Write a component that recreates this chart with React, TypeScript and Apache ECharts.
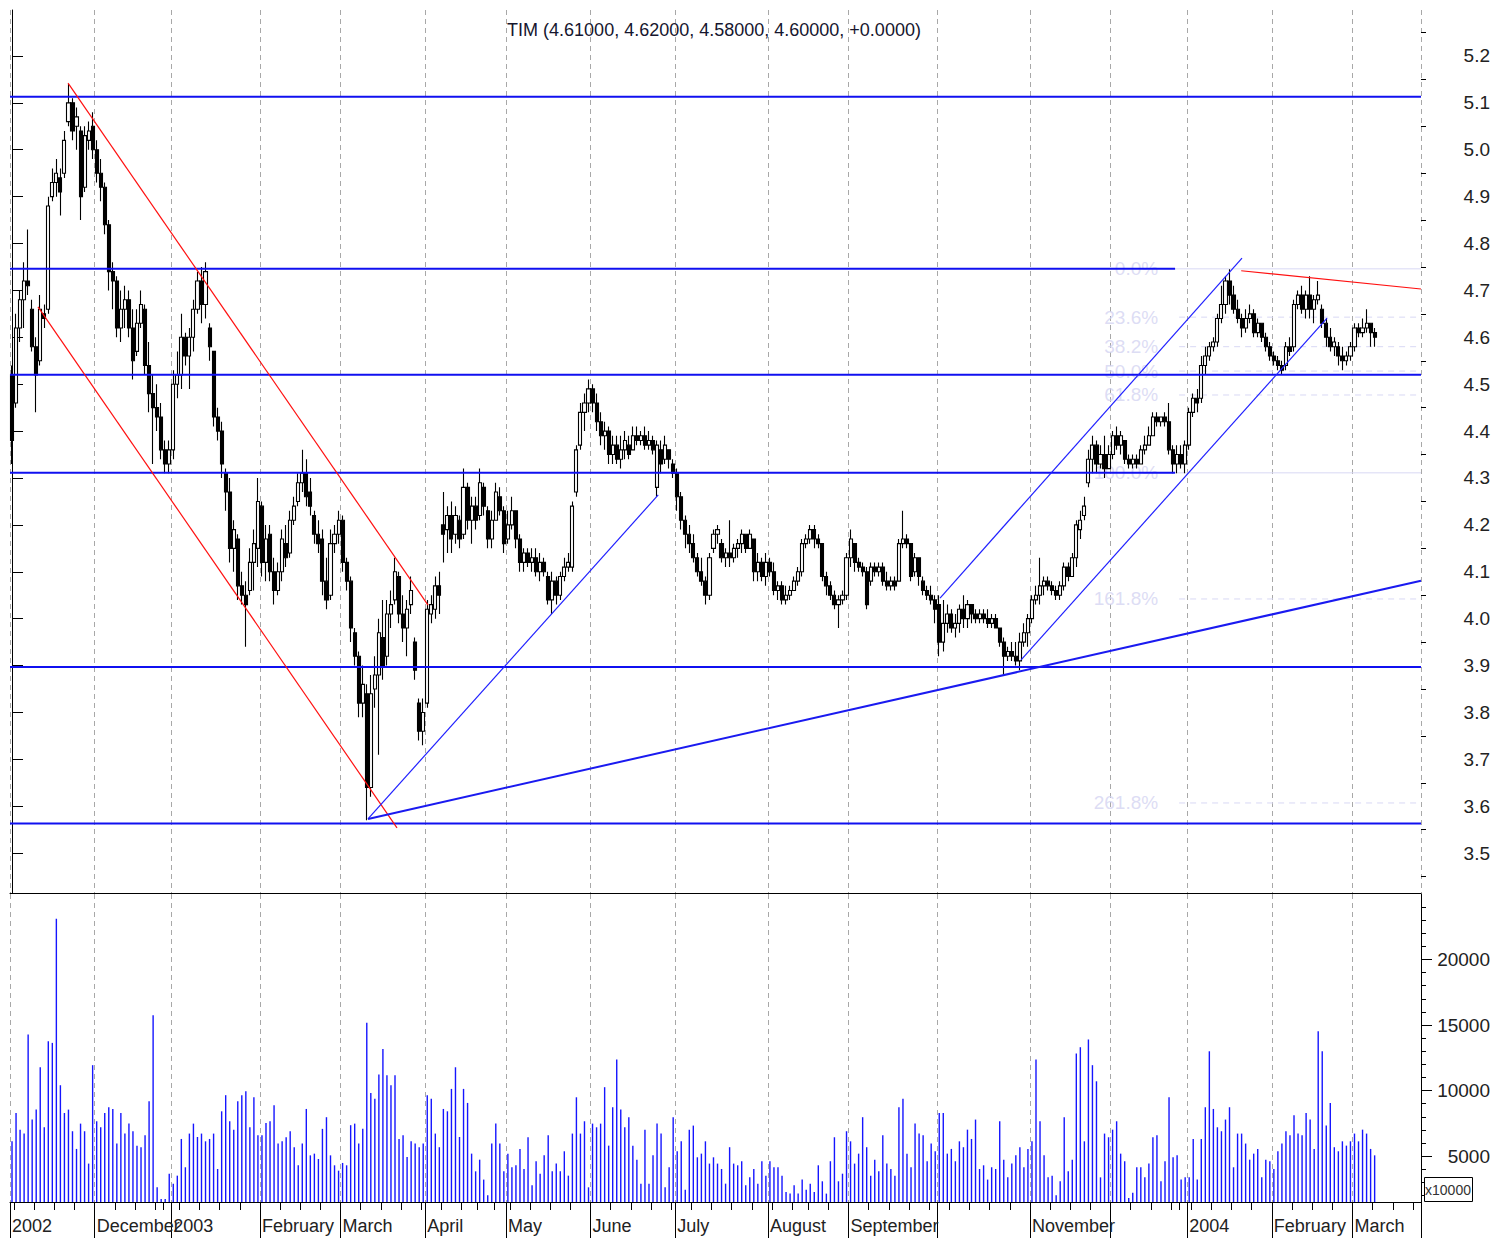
import React, { useEffect, useRef } from "react";
import * as echarts from "echarts";

// ---------------- data ----------------
const TITLE = "TIM (4.61000, 4.62000, 4.58000, 4.60000, +0.0000)";
const MONTH_NAMES = ["January", "February", "March", "April", "May", "June", "July", "August", "September", "October", "November", "December"];
const HOLIDAYS = ["2002-12-24", "2002-12-25", "2002-12-26", "2003-01-01", "2003-04-18", "2003-04-21", "2003-05-01", "2003-08-15", "2003-12-24", "2003-12-25", "2003-12-26", "2003-12-31", "2004-01-01"];
const HIDDEN_MONTH_LABELS = ["2003-10", "2003-12"];
const SLOT_COUNT = 350;

const opens = [
  4.52, 4.46, 4.62, 4.68, 4.72, 4.66, 4.58, 4.55, 4.65, 4.66, 4.90, 4.93, 4.94, 4.95, 5.06, 5.10, 5.05, 5.04, 4.92, 5.02, 5.05,
  5.00, 4.95, 4.92, 4.84, 4.74, 4.72, 4.62, 4.66, 4.68, 4.62, 4.57, 4.63, 4.66, 4.54, 4.48, 4.45, 4.43, 4.36, 4.33,
  4.36, 4.50, 4.52, 4.60, 4.56, 4.60, 4.66, 4.72, 4.67, 4.62, 4.57, 4.43, 4.40, 4.31, 4.27, 4.15, 4.17, 4.07, 4.05, 4.06, 4.12, 4.15,
  4.24, 4.12, 4.18, 4.10, 4.06, 4.10, 4.16, 4.14, 4.21, 4.25, 4.29, 4.31, 4.27, 4.22, 4.18, 4.17, 4.08, 4.05, 4.16, 4.18,
  4.21, 4.12, 4.08, 3.97, 3.92, 3.82, 3.84, 3.64, 3.85, 3.88, 3.96, 3.92, 4.01, 4.04, 4.09, 4.01, 3.98, 4.03, 3.95, 3.82, 3.76,
  3.82, 4.01, 4.02, 4.07, 4.20, 4.19, 4.22, 4.18, 4.21, 4.18, 4.28, 4.21, 4.24, 4.22, 4.28, 4.23, 4.17, 4.21, 4.26, 4.23,
  4.17, 4.20, 4.23, 4.17, 4.12, 4.14, 4.12, 4.13, 4.10, 4.12, 4.09, 4.04, 4.08, 4.05, 4.09, 4.11, 4.11, 4.27, 4.37, 4.44, 4.46,
  4.49, 4.46, 4.42, 4.39, 4.40, 4.35, 4.37, 4.34, 4.36, 4.37, 4.36, 4.39, 4.38, 4.39, 4.37, 4.38, 4.28, 4.36, 4.34, 4.36, 4.33,
  4.31, 4.26, 4.21, 4.18, 4.16, 4.13, 4.10, 4.08, 4.05, 4.15, 4.18, 4.16, 4.13, 4.14, 4.13, 4.15, 4.16, 4.18, 4.15, 4.17, 4.10, 4.12, 4.09,
  4.12, 4.10, 4.06, 4.07, 4.04, 4.05, 4.06, 4.08, 4.10, 4.16, 4.17, 4.19, 4.17, 4.16, 4.09, 4.07, 4.05, 4.03, 4.04, 4.05,
  4.13, 4.16, 4.12, 4.11, 4.10, 4.08, 4.11, 4.10, 4.11, 4.08, 4.07, 4.08, 4.08, 4.16, 4.17, 4.16, 4.10, 4.13, 4.08, 4.06, 4.05, 4.04,
  4.03, 3.95, 3.99, 4.01, 3.98, 3.99, 4.02, 4.00, 4.03, 4.01, 4.00, 4.01, 4.00, 3.99, 4.00, 3.98, 3.95, 3.92, 3.93, 3.92, 3.91, 3.95, 3.97,
  4.00, 4.04, 4.05, 4.07, 4.08, 4.07, 4.06, 4.05, 4.07, 4.11, 4.09, 4.13, 4.19, 4.22, 4.29, 4.34, 4.37, 4.33, 4.35, 4.32,
  4.35, 4.39, 4.37, 4.38, 4.34, 4.33, 4.34, 4.33, 4.36, 4.37, 4.39, 4.43, 4.42, 4.43, 4.42, 4.36, 4.33, 4.35, 4.33,
  4.37, 4.44, 4.47, 4.47, 4.54, 4.56, 4.58, 4.59, 4.64, 4.67, 4.72, 4.69, 4.66, 4.64, 4.62, 4.64, 4.65, 4.61, 4.63, 4.60, 4.58,
  4.56, 4.55, 4.54, 4.54, 4.58, 4.58, 4.67, 4.69, 4.66, 4.69, 4.66, 4.68, 4.66, 4.63, 4.60, 4.58, 4.58, 4.56, 4.55, 4.56,
  4.58, 4.62, 4.61, 4.62, 4.63, 4.61,
];
const highs = [
  4.54, 4.65, 4.70, 4.76, 4.83, 4.68, 4.60, 4.69, 4.67, 4.90, 4.96, 4.98, 4.96, 5.04, 5.14, 5.11, 5.09, 5.05, 5.05, 5.06, 5.08,
  5.02, 4.98, 4.93, 4.85, 4.76, 4.73, 4.70, 4.71, 4.70, 4.66, 4.66, 4.70, 4.67, 4.59, 4.52, 4.50, 4.46, 4.38, 4.38,
  4.53, 4.57, 4.65, 4.61, 4.62, 4.68, 4.74, 4.75, 4.76, 4.63, 4.57, 4.45, 4.42, 4.32, 4.30, 4.21, 4.18, 4.10, 4.08, 4.15, 4.19, 4.30,
  4.25, 4.20, 4.20, 4.13, 4.12, 4.19, 4.20, 4.23, 4.26, 4.31, 4.36, 4.34, 4.30, 4.23, 4.21, 4.19, 4.13, 4.19, 4.20, 4.23,
  4.22, 4.13, 4.09, 3.98, 3.93, 3.90, 3.86, 3.88, 3.92, 4.00, 4.04, 4.04, 4.06, 4.13, 4.10, 4.05, 4.04, 4.09, 3.96, 3.83, 3.83,
  4.04, 4.05, 4.09, 4.10, 4.27, 4.24, 4.25, 4.24, 4.22, 4.32, 4.29, 4.26, 4.26, 4.32, 4.29, 4.24, 4.23, 4.29, 4.28, 4.24,
  4.23, 4.26, 4.23, 4.18, 4.15, 4.15, 4.15, 4.15, 4.14, 4.13, 4.10, 4.10, 4.09, 4.10, 4.13, 4.14, 4.25, 4.37, 4.46, 4.48, 4.51,
  4.50, 4.48, 4.44, 4.42, 4.41, 4.39, 4.39, 4.39, 4.40, 4.39, 4.41, 4.41, 4.40, 4.41, 4.40, 4.39, 4.38, 4.38, 4.39, 4.36, 4.34,
  4.32, 4.27, 4.22, 4.20, 4.18, 4.14, 4.13, 4.09, 4.14, 4.19, 4.20, 4.17, 4.15, 4.21, 4.16, 4.17, 4.19, 4.18, 4.19, 4.17, 4.14, 4.13, 4.14,
  4.13, 4.12, 4.08, 4.08, 4.07, 4.07, 4.09, 4.11, 4.17, 4.18, 4.20, 4.20, 4.18, 4.16, 4.10, 4.08, 4.06, 4.05, 4.06, 4.14,
  4.19, 4.16, 4.13, 4.12, 4.11, 4.12, 4.12, 4.12, 4.12, 4.10, 4.09, 4.09, 4.17, 4.23, 4.18, 4.16, 4.14, 4.13, 4.09, 4.07, 4.07, 4.05,
  4.05, 4.04, 4.03, 4.02, 4.01, 4.03, 4.05, 4.04, 4.03, 4.02, 4.02, 4.02, 4.02, 4.01, 4.01, 3.98, 3.96, 3.94, 3.95, 3.95, 3.97, 3.99, 4.01,
  4.05, 4.07, 4.13, 4.09, 4.09, 4.08, 4.07, 4.08, 4.12, 4.12, 4.14, 4.21, 4.23, 4.26, 4.36, 4.39, 4.38, 4.37, 4.39, 4.37,
  4.40, 4.41, 4.40, 4.38, 4.35, 4.35, 4.35, 4.37, 4.39, 4.41, 4.44, 4.44, 4.43, 4.44, 4.46, 4.37, 4.37, 4.37, 4.38,
  4.45, 4.48, 4.49, 4.56, 4.58, 4.59, 4.60, 4.65, 4.71, 4.73, 4.745, 4.71, 4.68, 4.65, 4.66, 4.67, 4.66, 4.64, 4.63, 4.61, 4.59,
  4.57, 4.56, 4.55, 4.59, 4.60, 4.68, 4.70, 4.71, 4.70, 4.73, 4.69, 4.72, 4.67, 4.64, 4.62, 4.60, 4.59, 4.58, 4.57, 4.59,
  4.63, 4.63, 4.64, 4.66, 4.63, 4.62,
];
const lows = [
  4.33, 4.45, 4.59, 4.62, 4.69, 4.57, 4.44, 4.54, 4.62, 4.65, 4.89, 4.90, 4.86, 4.94, 5.05, 5.02, 5.00, 4.85, 4.91, 5.00, 4.98,
  4.93, 4.89, 4.82, 4.70, 4.66, 4.60, 4.59, 4.62, 4.60, 4.51, 4.56, 4.62, 4.52, 4.44, 4.33, 4.40, 4.34, 4.31, 4.31,
  4.34, 4.47, 4.49, 4.54, 4.49, 4.57, 4.65, 4.63, 4.64, 4.55, 4.41, 4.38, 4.30, 4.23, 4.12, 4.10, 4.04, 4.03, 3.94, 4.05, 4.06, 4.11,
  4.09, 4.08, 4.08, 4.03, 4.05, 4.08, 4.11, 4.13, 4.20, 4.24, 4.27, 4.24, 4.22, 4.16, 4.14, 4.05, 4.02, 4.04, 4.14, 4.16,
  4.10, 4.06, 3.95, 3.90, 3.79, 3.79, 3.57, 3.62, 3.81, 3.71, 3.87, 3.90, 3.98, 4.03, 3.99, 3.95, 3.92, 4.01, 3.87, 3.74, 3.73,
  3.81, 3.99, 4.00, 4.01, 4.12, 4.14, 4.14, 4.16, 4.15, 4.17, 4.19, 4.16, 4.19, 4.21, 4.22, 4.15, 4.15, 4.21, 4.22, 4.14,
  4.16, 4.19, 4.15, 4.10, 4.10, 4.11, 4.10, 4.09, 4.08, 4.09, 4.03, 4.01, 4.03, 4.04, 4.08, 4.10, 4.10, 4.26, 4.36, 4.40, 4.44,
  4.44, 4.40, 4.37, 4.36, 4.33, 4.33, 4.33, 4.32, 4.34, 4.34, 4.36, 4.37, 4.37, 4.36, 4.36, 4.35, 4.26, 4.31, 4.33, 4.32, 4.30,
  4.23, 4.19, 4.15, 4.14, 4.12, 4.09, 4.07, 4.03, 4.04, 4.14, 4.16, 4.12, 4.11, 4.11, 4.12, 4.13, 4.14, 4.14, 4.15, 4.08, 4.08, 4.08, 4.07,
  4.09, 4.05, 4.04, 4.03, 4.03, 4.04, 4.06, 4.07, 4.09, 4.15, 4.16, 4.15, 4.15, 4.08, 4.05, 4.04, 4.02, 3.98, 4.03, 4.04,
  4.11, 4.10, 4.10, 4.09, 4.02, 4.07, 4.09, 4.09, 4.07, 4.06, 4.06, 4.06, 4.08, 4.15, 4.15, 4.08, 4.09, 4.07, 4.05, 4.04, 4.03, 3.99,
  3.92, 3.93, 3.97, 3.97, 3.96, 3.97, 3.98, 3.98, 3.99, 3.99, 3.99, 3.99, 3.98, 3.98, 3.98, 3.94, 3.88, 3.91, 3.91, 3.90, 3.89, 3.94, 3.94,
  3.99, 4.03, 4.03, 4.05, 4.06, 4.05, 4.04, 4.04, 4.06, 4.08, 4.09, 4.11, 4.17, 4.21, 4.28, 4.31, 4.31, 4.32, 4.30, 4.32,
  4.34, 4.36, 4.35, 4.33, 4.32, 4.32, 4.32, 4.33, 4.35, 4.37, 4.39, 4.41, 4.41, 4.41, 4.35, 4.31, 4.31, 4.32, 4.31,
  4.36, 4.43, 4.44, 4.46, 4.52, 4.55, 4.57, 4.58, 4.63, 4.65, 4.67, 4.65, 4.63, 4.60, 4.61, 4.63, 4.60, 4.60, 4.59, 4.57, 4.55,
  4.54, 4.53, 4.52, 4.53, 4.56, 4.57, 4.66, 4.65, 4.64, 4.64, 4.63, 4.67, 4.62, 4.58, 4.57, 4.56, 4.54, 4.53, 4.54, 4.55,
  4.57, 4.60, 4.60, 4.61, 4.58, 4.58,
];
const closes = [
  4.38, 4.62, 4.68, 4.72, 4.71, 4.58, 4.52, 4.66, 4.64, 4.88, 4.93, 4.95, 4.91, 5.02, 5.10, 5.04, 5.07, 4.90, 5.03, 5.04, 5.00,
  4.95, 4.92, 4.84, 4.74, 4.72, 4.62, 4.66, 4.68, 4.62, 4.55, 4.63, 4.67, 4.54, 4.48, 4.45, 4.43, 4.36, 4.33, 4.36,
  4.50, 4.52, 4.60, 4.56, 4.60, 4.66, 4.72, 4.67, 4.74, 4.58, 4.43, 4.40, 4.33, 4.27, 4.15, 4.19, 4.07, 4.05, 4.03, 4.12, 4.16, 4.25,
  4.12, 4.17, 4.10, 4.06, 4.10, 4.17, 4.13, 4.21, 4.24, 4.29, 4.31, 4.26, 4.24, 4.18, 4.16, 4.08, 4.04, 4.16, 4.18, 4.21,
  4.12, 4.08, 3.98, 3.92, 3.82, 3.86, 3.64, 3.84, 3.88, 3.97, 3.90, 4.01, 4.03, 4.10, 4.01, 3.98, 4.02, 4.06, 3.89, 3.76, 3.80,
  4.02, 4.03, 4.07, 4.05, 4.18, 4.22, 4.17, 4.22, 4.17, 4.28, 4.21, 4.24, 4.21, 4.29, 4.24, 4.17, 4.21, 4.27, 4.23, 4.16,
  4.20, 4.23, 4.17, 4.12, 4.14, 4.12, 4.13, 4.10, 4.12, 4.10, 4.04, 4.08, 4.05, 4.09, 4.11, 4.12, 4.24, 4.36, 4.44, 4.46, 4.49,
  4.46, 4.42, 4.39, 4.40, 4.35, 4.37, 4.34, 4.36, 4.38, 4.35, 4.39, 4.38, 4.39, 4.37, 4.38, 4.36, 4.37, 4.33, 4.37, 4.34, 4.31,
  4.26, 4.21, 4.18, 4.16, 4.13, 4.10, 4.08, 4.05, 4.13, 4.18, 4.19, 4.13, 4.14, 4.13, 4.15, 4.16, 4.18, 4.15, 4.18, 4.10, 4.12, 4.09, 4.12,
  4.10, 4.06, 4.07, 4.04, 4.05, 4.06, 4.08, 4.10, 4.16, 4.17, 4.19, 4.17, 4.16, 4.09, 4.07, 4.05, 4.03, 4.04, 4.05, 4.13,
  4.17, 4.12, 4.11, 4.10, 4.03, 4.11, 4.10, 4.11, 4.08, 4.07, 4.08, 4.07, 4.16, 4.17, 4.16, 4.09, 4.13, 4.09, 4.06, 4.05, 4.04, 4.02,
  3.95, 3.99, 4.01, 3.98, 3.99, 4.02, 4.00, 4.03, 4.01, 4.00, 4.01, 4.00, 3.99, 4.00, 3.98, 3.95, 3.92, 3.93, 3.92, 3.91, 3.95, 3.97, 4.00,
  4.04, 4.05, 4.07, 4.08, 4.07, 4.06, 4.05, 4.07, 4.11, 4.09, 4.13, 4.20, 4.21, 4.24, 4.34, 4.37, 4.33, 4.35, 4.32, 4.35,
  4.39, 4.37, 4.39, 4.34, 4.33, 4.34, 4.33, 4.36, 4.37, 4.39, 4.43, 4.42, 4.43, 4.42, 4.36, 4.33, 4.35, 4.33, 4.37,
  4.44, 4.47, 4.46, 4.54, 4.56, 4.58, 4.59, 4.64, 4.67, 4.72, 4.69, 4.66, 4.64, 4.62, 4.64, 4.65, 4.61, 4.63, 4.60, 4.58, 4.56,
  4.55, 4.54, 4.53, 4.58, 4.57, 4.67, 4.69, 4.66, 4.69, 4.66, 4.68, 4.69, 4.63, 4.60, 4.58, 4.59, 4.56, 4.55, 4.56, 4.58,
  4.62, 4.61, 4.62, 4.63, 4.61, 4.60,
];
const volumes = [
  6130, 8300, 7020, 6720, 14280, 7790, 8550, 11780, 7200, 13770,
  13640, 23110, 10410, 8300, 8550, 6900, 5550, 7480, 6900, 4430,
  11940, 7660, 7200, 8300, 8730, 8600, 5960, 8300, 6720, 7480,
  6900, 5800, 5680, 6590, 9190, 15750, 2620, 1730, 1730, 3660,
  2900, 3510, 6310, 4150, 6720, 7480, 6460, 6720, 6130, 6310,
  6720, 4020, 8420, 9650, 7660, 7020, 9190, 9650, 9950, 7200,
  9490, 6590, 6590, 7530, 7660, 8880, 5960, 6130, 6440, 6900,
  5680, 4300, 5960, 8600, 5060, 5190, 4780, 7080, 7970, 5060,
  4300, 3890, 4480, 4300, 7360, 7480, 5960, 7080, 15170, 9820,
  9370, 11220, 13180, 11170, 10410, 11170, 6310, 6590, 4940, 6130,
  5960, 5680, 5960, 9650, 9370, 6720, 5680, 8600, 8420, 10130,
  11780, 6460, 10130, 9060, 5190, 3840, 4730, 3210, 2010, 5960,
  7480, 5960,
  3840, 5190, 4150, 4300, 5550, 4020, 6440, 2770, 4610, 3660,
  5060, 6590, 3840, 4430, 3840, 5370, 3510, 6720, 9490, 6720,
  7660, 2620, 7480, 7200, 7480, 10260, 5800, 8730, 12370, 8550,
  7200, 7970, 5800, 4730, 2900, 7020, 2900, 5060, 7480, 6720,
  2620, 4150, 7970, 5370, 6130, 2440, 7020, 7330, 4910, 5190,
  6130, 4430, 4910, 4430, 4020, 2900, 5680, 4430, 4300, 4610,
  2770, 3380, 4020, 2900, 4610, 3510, 4610, 4150, 4150, 3510,
  2270, 2140, 2770, 2140, 3210, 2440, 2900, 2270, 4300, 3080,
  2140, 4610, 6440, 3080, 3660, 6900, 6130, 4430, 5190, 7970,
  5680, 3510, 4730, 3840, 6590, 4430, 4020, 3510, 8730, 9370,
  5190, 4150, 7480, 6720, 6590, 4610, 5960, 5370, 8300, 8300,
  5190, 5550, 4610, 6130, 5680, 7020, 6310, 7790,
  4020, 4300, 3210, 4150, 4020, 7660, 4730, 3380, 4430, 5060,
  5680, 4150, 5550, 6130, 12370, 7660, 5060, 3380, 3510, 2010,
  3080, 7970, 3840, 4730, 12830, 13310, 6130, 13900, 11940, 10710,
  3380, 6720, 6440, 7020, 7660, 5190, 4610, 1800, 2200, 4150, 4150,
  3380, 4430, 6440, 6590, 3080, 4610, 9490, 4910, 5060, 3210,
  3380, 3380, 6310, 3210, 6310, 8730, 13000, 8600, 7200, 6900,
  7790, 8730, 4150, 6720, 6720, 5960, 4730, 5190, 5550, 3380,
  4730, 4610, 4020, 5370, 5960, 6900, 6590, 8120, 6720, 6590,
  8300, 7790, 5550, 14530, 13000, 7330, 9060, 5680, 5370, 6130,
  5800, 6130, 6720, 6130, 7020, 6720, 5550, 5060,
];

const priceTicks = [3.5, 3.6, 3.7, 3.8, 3.9, 4.0, 4.1, 4.2, 4.3, 4.4, 4.5, 4.6, 4.7, 4.8, 4.9, 5.0, 5.1, 5.2];
const priceMinorTicks = [3.45, 3.55, 3.65, 3.75, 3.85, 3.95, 4.05, 4.15, 4.25, 4.35, 4.45, 4.55, 4.65, 4.75, 4.85, 4.95, 5.05, 5.15, 5.25];
const volumeTicks = [5000, 10000, 15000, 20000];
const volumeMinorTicks = [2000, 3000, 4000, 6000, 7000, 8000, 9000, 11000, 12000, 13000, 14000, 16000, 17000, 18000, 19000, 21000, 22000, 23000, 24000];

// horizontal support / resistance levels (price, end slot)
const levelValues = [5.113, 4.746, 4.52, 4.311, 3.897, 3.563];
const levelEnds = [349.5, 288.5, 349.5, 288.5, 349.5, 349.5];

// Fibonacci retracement
const fibLabels = ["0.0%", "23.6%", "38.2%", "50.0%", "61.8%", "100.0%", "161.8%", "261.8%"];
const fibValues = [4.746, 4.643, 4.58, 4.528, 4.477, 4.311, 4.042, 3.607];

// trend lines: [[slot, price], [slot, price]]
const redLines = [
  [[13.9, 5.142], [103.2, 4.029]],
  [[6.45, 4.665], [95.5, 3.554]],
  [[304.9, 4.742], [349.5, 4.703]],
];
const blueLines = [
  [[88.3, 3.573], [160.3, 4.264]],
  [[250.3, 3.912], [326.2, 4.641]],
  [[230.2, 4.044], [305.1, 4.769]],
];
const blueLongLine = [[88.3, 3.573], [349.5, 4.081]];

// ---------------- helpers ----------------
function buildDays() {
  const hol = new Set(HOLIDAYS);
  const days: Date[] = [];
  const d = new Date(Date.UTC(2002, 10, 1));
  while (days.length < SLOT_COUNT) {
    const wd = d.getUTCDay();
    const key = d.toISOString().slice(0, 10);
    if (wd !== 0 && wd !== 6 && !hol.has(key)) days.push(new Date(d.getTime()));
    d.setUTCDate(d.getUTCDate() + 1);
  }
  return days;
}

const FONT = "'Liberation Sans', Arial, sans-serif";

export default function App() {
  const ref = useRef<HTMLDivElement>(null);

  useEffect(() => {
    if (!ref.current) return;
    const chart = echarts.init(ref.current, null, { renderer: "svg" });

    const days = buildDays();
    const cats = days.map((d) => d.toISOString().slice(0, 10));
    const monthStart = days.map((d, i) => i === 0 || d.getUTCMonth() !== days[i - 1].getUTCMonth());
    const weekStart = days.map((d, i) => i === 0 || d.getUTCDay() <= days[i - 1].getUTCDay());
    const labelText = days.map((d, i) => {
      const key = cats[i].slice(0, 7);
      if (!monthStart[i] || HIDDEN_MONTH_LABELS.includes(key)) return "";
      if (i === 0 || d.getUTCMonth() === 0) return String(d.getUTCFullYear());
      return MONTH_NAMES[d.getUTCMonth()];
    });

    const candleData = opens.map((o, i) => [o, closes[i], lows[i], highs[i]]);

    const dashed = { color: "#a8a8a8", width: 1, type: [5, 4] as any };

    const series: any[] = [];

    // fib lines (light)
    fibValues.forEach((v, k) => {
      const solid = k === 0 || k === 5;
      series.push({
        type: "line",
        xAxisIndex: 3,
        yAxisIndex: 0,
        data: [[solid ? 270 : 289.5, v], [349.5, v]],
        symbol: "none",
        silent: true,
        z: 1,
        lineStyle: { color: "#d8d8f4", width: 1, type: solid ? "solid" : [6, 5] },
      });
    });
    series.push({
      type: "scatter",
      xAxisIndex: 3,
      yAxisIndex: 0,
      symbolSize: 0,
      silent: true,
      z: 1,
      data: fibValues.map((v) => [284.3, v]),
      label: {
        show: true,
        position: "left",
        distance: 0,
        formatter: (p: any) => fibLabels[p.dataIndex],
        color: "#d4d4f2",
        fontSize: 19,
        fontFamily: FONT,
      },
    });

    series.push({
      type: "candlestick",
      xAxisIndex: 0,
      yAxisIndex: 0,
      data: candleData,
      barWidth: 3.6,
      z: 2,
      itemStyle: {
        color: "#ffffff",
        color0: "#000000",
        borderColor: "#000000",
        borderColor0: "#000000",
        borderWidth: 1.1,
      },
    });

    series.push({
      type: "bar",
      xAxisIndex: 1,
      yAxisIndex: 2,
      data: volumes,
      barWidth: 1.4,
      clip: true,
      itemStyle: { color: "#1515ff" },
    });

    levelValues.forEach((v, k) => {
      series.push({
        type: "line",
        xAxisIndex: 3,
        yAxisIndex: 0,
        data: [[-0.5, v], [levelEnds[k], v]],
        symbol: "none",
        silent: true,
        z: 4,
        lineStyle: { color: "#1010f0", width: 2 },
      });
    });
    redLines.forEach((l) => {
      series.push({
        type: "line",
        xAxisIndex: 3,
        yAxisIndex: 0,
        data: l,
        symbol: "none",
        silent: true,
        z: 4,
        lineStyle: { color: "#ff1010", width: 1.2 },
      });
    });
    blueLines.forEach((l) => {
      series.push({
        type: "line",
        xAxisIndex: 3,
        yAxisIndex: 0,
        data: l,
        symbol: "none",
        silent: true,
        z: 4,
        lineStyle: { color: "#2020ff", width: 1.2 },
      });
    });
    series.push({
      type: "line",
      xAxisIndex: 3,
      yAxisIndex: 0,
      data: blueLongLine,
      symbol: "none",
      silent: true,
      z: 4,
      lineStyle: { color: "#1a1af0", width: 2 },
    });

    const option: any = {
      animation: false,
      backgroundColor: "#ffffff",
      grid: [
        { left: 10, top: 10, width: 1411, height: 883 },
        { left: 10, top: 894, width: 1411, height: 308 },
      ],
      xAxis: [
        {
          type: "category",
          gridIndex: 0,
          data: cats,
          boundaryGap: true,
          position: "bottom",
          axisLine: { show: true, onZero: false, lineStyle: { color: "#000", width: 1 } },
          axisTick: { show: false },
          axisLabel: { show: false },
          splitLine: { show: true, interval: (i: number) => monthStart[i], lineStyle: dashed },
        },
        {
          type: "category",
          gridIndex: 1,
          data: cats,
          boundaryGap: true,
          position: "bottom",
          axisLine: { show: true, onZero: false, lineStyle: { color: "#000", width: 1 } },
          axisTick: { show: true, interval: (i: number) => weekStart[i], length: 8, lineStyle: { color: "#000" } },
          axisLabel: {
            show: true,
            interval: (i: number) => labelText[i] !== "",
            formatter: (_v: string, i: number) => labelText[i],
            align: "left",
            margin: 15,
            fontSize: 18,
            fontFamily: FONT,
            color: "#222",
          },
          splitLine: { show: true, interval: (i: number) => monthStart[i], lineStyle: dashed },
        },
        {
          type: "category",
          gridIndex: 1,
          data: cats,
          boundaryGap: true,
          position: "bottom",
          axisLine: { show: false, onZero: false },
          axisTick: { show: true, interval: (i: number) => monthStart[i], length: 36, lineStyle: { color: "#000" } },
          axisLabel: { show: false },
          splitLine: { show: false },
        },
        {
          type: "value",
          gridIndex: 0,
          min: -0.5,
          max: SLOT_COUNT - 0.5,
          show: false,
          position: "top",
        },
      ],
      yAxis: [
        {
          type: "value",
          gridIndex: 0,
          position: "right",
          min: 3.415,
          max: 5.298,
          axisLine: { show: true, lineStyle: { color: "#000", width: 1 } },
          axisTick: { show: true, customValues: priceTicks, length: 11, lineStyle: { color: "#000" } },
          axisLabel: {
            show: true,
            customValues: priceTicks,
            formatter: (v: number) => v.toFixed(1),
            align: "right",
            margin: 69,
            fontSize: 19,
            fontFamily: FONT,
            color: "#222",
          },
          splitLine: { show: false },
        },
        {
          type: "value",
          gridIndex: 0,
          position: "right",
          min: 3.415,
          max: 5.298,
          axisLine: { show: false },
          axisTick: { show: true, customValues: priceMinorTicks, length: 5, lineStyle: { color: "#000" } },
          axisLabel: { show: false },
          splitLine: { show: false },
        },
        {
          type: "value",
          gridIndex: 1,
          position: "right",
          min: 1500,
          max: 25000,
          axisLine: { show: true, lineStyle: { color: "#000", width: 1 } },
          axisTick: { show: true, customValues: volumeTicks, length: 11, lineStyle: { color: "#000" } },
          axisLabel: {
            show: true,
            customValues: volumeTicks,
            formatter: (v: number) => String(v),
            align: "right",
            margin: 69,
            fontSize: 19,
            fontFamily: FONT,
            color: "#222",
          },
          splitLine: { show: false },
        },
        {
          type: "value",
          gridIndex: 1,
          position: "right",
          min: 1500,
          max: 25000,
          axisLine: { show: false },
          axisTick: { show: true, customValues: volumeMinorTicks, length: 5, lineStyle: { color: "#000" } },
          axisLabel: { show: false },
          splitLine: { show: false },
        },
      ],
      graphic: [
        {
          type: "text",
          x: 714,
          y: 30,
          z: 10,
          style: {
            text: TITLE,
            fontSize: 18,
            fontFamily: FONT,
            fill: "#16162e",
            align: "center",
            verticalAlign: "middle",
          },
        },
        {
          type: "rect",
          shape: { x: 1424.5, y: 1177.5, width: 48, height: 24 },
          style: { fill: "#fff", stroke: "#000", lineWidth: 1 },
          z: 10,
        },
        {
          type: "text",
          x: 1448,
          y: 1190,
          z: 11,
          style: {
            text: "x10000",
            fontSize: 14,
            fontFamily: FONT,
            fill: "#333",
            align: "center",
            verticalAlign: "middle",
          },
        },
      ],
      series,
    };

    chart.setOption(option);
    return () => chart.dispose();
  }, []);

  return (
    <div
      ref={ref}
      style={{ position: "absolute", left: 0, top: 0, width: 1495, height: 1238, background: "#fff" }}
    />
  );
}
